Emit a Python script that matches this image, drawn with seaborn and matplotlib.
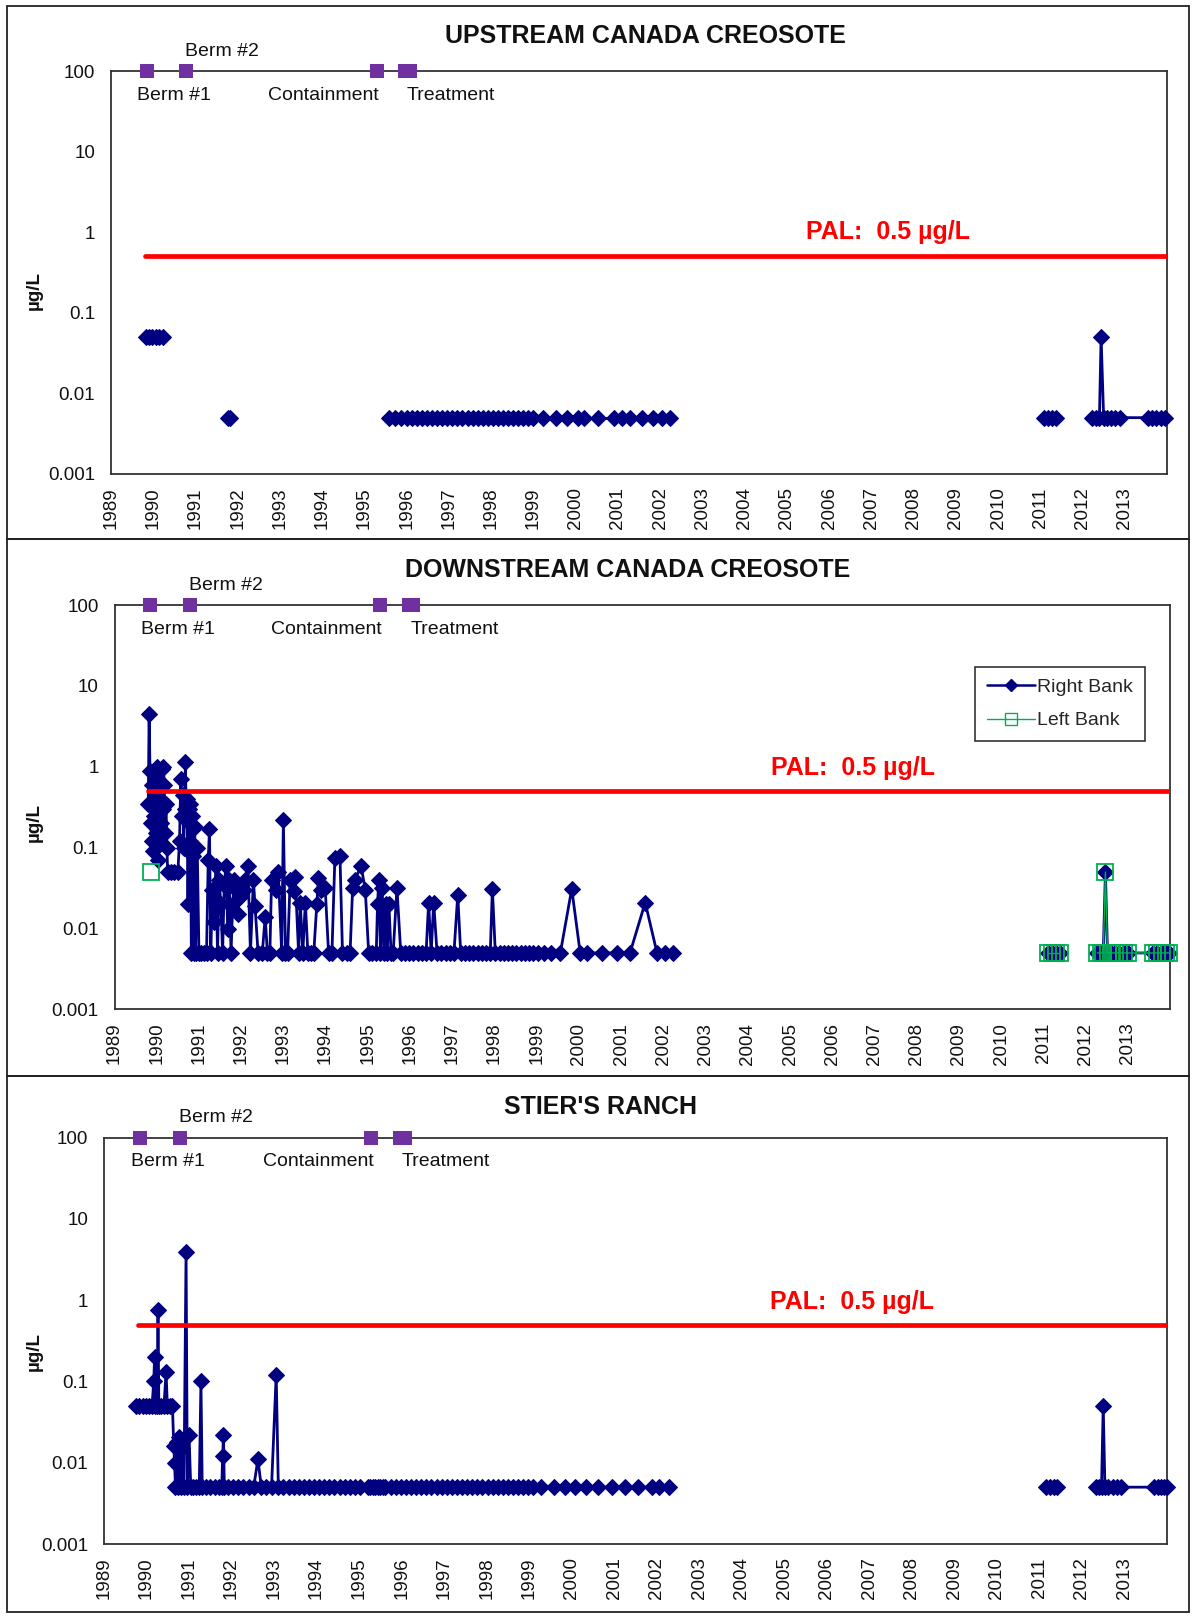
import numpy as np
import pandas as pd
import matplotlib
matplotlib.use("Agg")
import matplotlib.pyplot as plt
from matplotlib.lines import Line2D
from matplotlib.patches import Rectangle
from matplotlib.ticker import NullLocator
import seaborn as sns

nan = np.nan

# ---- data ----
year_labels = ["1989", "1990", "1991", "1992", "1993", "1994", "1995", "1996", "1997",
               "1998", "1999", "2000", "2001", "2002", "2003", "2004", "2005", "2006",
               "2007", "2008", "2009", "2010", "2011", "2012", "2013"]
ytick_values = [0.001, 0.01, 0.1, 1, 10, 100]
ytick_labels = ["0.001", "0.01", "0.1", "1", "10", "100"]

pal_level = 0.5
pal_start = 1989.8
pal_end = 2014.0

event_years = [1989.85, 1990.78, 1995.29, 1995.97, 1996.07]
event_level = [100, 100, 100, 100, 100]
event_labels = ["Berm #1", "Berm #2", "Containment", "Treatment"]
event_label_years = [1990.5, 1991.63, 1994.03, 1997.05]
event_label_above = [False, True, False, False]

up_year = [
    1989.82, 1989.90, 1989.98, 1990.06, 1990.14, 1990.22, nan, 1991.76, 1991.82, nan,
    1995.58, 1995.72, 1995.86, 1996.00, 1996.12, 1996.24, 1996.36, 1996.48, 1996.60, 1996.72,
    1996.84, 1996.96, 1997.08, 1997.20, 1997.32, 1997.44, 1997.56, 1997.68, 1997.80, 1997.92,
    1998.04, 1998.16, 1998.28, 1998.40, 1998.52, 1998.64, 1998.76, 1998.88, 1999.00, 1999.22,
    1999.54, 1999.80, 2000.05, 2000.20, 2000.54, 2000.90, 2001.10, 2001.29, 2001.56, 2001.83,
    2002.05, 2002.24, nan, 2011.08, 2011.18, 2011.28, 2011.38, nan, 2012.22, 2012.32,
    2012.40, 2012.44, 2012.50, 2012.58, 2012.68, 2012.78, 2012.88, 2013.55, 2013.65, 2013.75,
    2013.85, 2013.95,
]
up_value = [
    0.05, 0.05, 0.05, 0.05, 0.05, 0.05, nan, 0.005, 0.005, nan,
    0.005, 0.005, 0.005, 0.005, 0.005, 0.005, 0.005, 0.005, 0.005, 0.005,
    0.005, 0.005, 0.005, 0.005, 0.005, 0.005, 0.005, 0.005, 0.005, 0.005,
    0.005, 0.005, 0.005, 0.005, 0.005, 0.005, 0.005, 0.005, 0.005, 0.005,
    0.005, 0.005, 0.005, 0.005, 0.005, 0.005, 0.005, 0.005, 0.005, 0.005,
    0.005, 0.005, nan, 0.005, 0.005, 0.005, 0.005, nan, 0.005, 0.005,
    0.005, 0.05, 0.005, 0.005, 0.005, 0.005, 0.005, 0.005, 0.005, 0.005,
    0.005, 0.005,
]

dn_year = [
    1989.80, 1989.82, 1989.84, 1989.86, 1989.88, 1989.90, 1989.92, 1989.94, 1989.96, 1989.98,
    1990.00, 1990.02, 1990.04, 1990.06, 1990.08, 1990.10, 1990.12, 1990.14, 1990.16, 1990.18,
    1990.20, 1990.22, 1990.24, 1990.26, 1990.34, 1990.42, 1990.50, 1990.54, 1990.57, 1990.60,
    1990.62, 1990.64, 1990.66, 1990.68, 1990.70, 1990.72, 1990.74, 1990.76, 1990.78, 1990.80,
    1990.82, 1990.84, 1990.86, 1990.88, 1990.90, 1990.92, 1990.96, 1991.00, 1991.06, 1991.12,
    1991.18, 1991.22, 1991.25, 1991.28, 1991.32, 1991.36, 1991.40, 1991.44, 1991.48, 1991.52,
    1991.56, 1991.60, 1991.64, 1991.68, 1991.72, 1991.76, 1991.80, 1991.84, 1991.88, 1991.92,
    1991.96, 1992.00, 1992.06, 1992.10, 1992.16, 1992.22, 1992.29, 1992.33, 1992.40, 1992.50,
    1992.57, 1992.62, 1992.68, 1992.72, 1992.82, 1992.88, 1992.96, 1993.00, 1993.05, 1993.10,
    1993.16, 1993.24, 1993.28, 1993.36, 1993.40, 1993.46, 1993.52, 1993.58, 1993.66, 1993.72,
    1993.79, 1993.83, 1993.90, 1993.99, 1994.07, 1994.15, 1994.22, 1994.34, 1994.40, 1994.50,
    1994.58, 1994.64, 1994.70, 1994.84, 1994.94, 1995.02, 1995.10, 1995.20, 1995.23, 1995.26,
    1995.30, 1995.34, 1995.38, 1995.42, 1995.46, 1995.50, 1995.55, 1995.60, 1995.69, 1995.78,
    1995.88, 1995.98, 1996.08, 1996.18, 1996.28, 1996.38, 1996.44, 1996.50, 1996.56, 1996.64,
    1996.74, 1996.84, 1996.94, 1997.04, 1997.13, 1997.20, 1997.30, 1997.40, 1997.50, 1997.60,
    1997.70, 1997.80, 1997.90, 1997.95, 1998.02, 1998.12, 1998.22, 1998.32, 1998.42, 1998.52,
    1998.62, 1998.72, 1998.82, 1998.92, 1999.02, 1999.17, 1999.33, 1999.56, 1999.83, 2000.03,
    2000.19, 2000.54, 2000.90, 2001.21, 2001.57, 2001.85, 2002.05, 2002.24, nan, 2011.10,
    2011.20, 2011.30, 2011.40, nan, 2012.28, 2012.36, 2012.42, 2012.47, 2012.52, 2012.60,
    2012.70, 2012.80, 2012.90, 2013.00, 2013.60, 2013.70, 2013.80, 2013.90, 2013.98,
]
dn_right = [
    0.35, 4.5, 0.9, 0.2, 0.12, 0.6, 0.09, 0.25, 0.85, 0.15,
    1.0, 0.07, 0.4, 0.12, 0.65, 0.2, 0.95, 0.3, 1.0, 0.6,
    0.15, 0.35, 0.1, 0.05, 0.05, 0.05, 0.05, 0.12, 0.7, 0.25,
    0.45, 0.1, 0.3, 1.16, 0.22, 0.4, 0.02, 0.3, 0.12, 0.35,
    0.005, 0.25, 0.08, 0.005, 0.18, 0.005, 0.1, 0.005, 0.005, 0.005,
    0.005, 0.07, 0.17, 0.005, 0.03, 0.012, 0.06, 0.005, 0.04, 0.02,
    0.005, 0.035, 0.06, 0.01, 0.04, 0.005, 0.02, 0.04, 0.03, 0.015,
    0.03, 0.025, 0.03, 0.04, 0.06, 0.005, 0.04, 0.019, 0.005, 0.005,
    0.014, 0.005, 0.005, 0.04, 0.03, 0.05, 0.005, 0.22, 0.005, 0.005,
    0.04, 0.029, 0.043, 0.005, 0.021, 0.005, 0.021, 0.005, 0.005, 0.005,
    0.02, 0.042, 0.03, 0.032, 0.005, 0.005, 0.075, 0.08, 0.005, 0.005,
    0.005, 0.032, 0.04, 0.06, 0.03, 0.005, 0.005, 0.005, 0.02, 0.04,
    0.005, 0.032, 0.005, 0.02, 0.005, 0.02, 0.005, 0.005, 0.032, 0.005,
    0.005, 0.005, 0.005, 0.005, 0.005, 0.005, 0.021, 0.005, 0.021, 0.005,
    0.005, 0.005, 0.005, 0.005, 0.026, 0.005, 0.005, 0.005, 0.005, 0.005,
    0.005, 0.005, 0.005, 0.031, 0.005, 0.005, 0.005, 0.005, 0.005, 0.005,
    0.005, 0.005, 0.005, 0.005, 0.005, 0.005, 0.005, 0.005, 0.031, 0.005,
    0.005, 0.005, 0.005, 0.005, 0.021, 0.005, 0.005, 0.005, nan, 0.005,
    0.005, 0.005, 0.005, nan, 0.005, 0.005, 0.005, 0.05, 0.005, 0.005,
    0.005, 0.005, 0.005, 0.005, 0.005, 0.005, 0.005, 0.005, 0.005,
]
dn_left_year = [
    1989.86, nan, 2011.10, 2011.20, 2011.30, 2011.40, nan, 2012.28, 2012.36, 2012.42,
    2012.47, 2012.52, 2012.60, 2012.70, 2012.80, 2012.90, 2013.00, 2013.60, 2013.70, 2013.80,
    2013.90, 2013.98,
]
dn_left = [
    0.05, nan, 0.005, 0.005, 0.005, 0.005, nan, 0.005, 0.005, 0.005,
    0.05, 0.005, 0.005, 0.005, 0.005, 0.005, 0.005, 0.005, 0.005, 0.005,
    0.005, 0.005,
]

st_year = [
    1989.75, 1989.83, 1989.91, 1989.99, 1990.07, 1990.13, 1990.17, 1990.19, 1990.21, 1990.25,
    1990.27, 1990.29, 1990.35, 1990.41, 1990.46, 1990.49, 1990.55, 1990.61, 1990.64, 1990.66,
    1990.68, 1990.71, 1990.74, 1990.77, 1990.80, 1990.84, 1990.88, 1990.93, 1990.96, 1991.00,
    1991.04, 1991.10, 1991.17, 1991.24, 1991.28, 1991.31, 1991.40, 1991.50, 1991.60, 1991.70,
    1991.77, 1991.79, 1991.81, 1991.83, 1991.92, 1992.04, 1992.16, 1992.28, 1992.40, 1992.52,
    1992.62, 1992.70, 1992.82, 1992.94, 1993.05, 1993.10, 1993.22, 1993.34, 1993.46, 1993.58,
    1993.70, 1993.82, 1993.94, 1994.06, 1994.18, 1994.30, 1994.42, 1994.54, 1994.66, 1994.78,
    1994.90, 1995.02, 1995.20, 1995.26, 1995.32, 1995.38, 1995.44, 1995.50, 1995.56, 1995.62,
    1995.74, 1995.86, 1995.98, 1996.10, 1996.22, 1996.34, 1996.46, 1996.58, 1996.70, 1996.82,
    1996.94, 1997.06, 1997.18, 1997.30, 1997.42, 1997.54, 1997.66, 1997.78, 1997.90, 1998.02,
    1998.14, 1998.26, 1998.38, 1998.50, 1998.62, 1998.74, 1998.86, 1998.98, 1999.10, 1999.27,
    1999.58, 1999.85, 2000.07, 2000.34, 2000.61, 2000.95, 2001.26, 2001.57, 2001.89, 2002.06,
    2002.29, nan, 2011.15, 2011.25, 2011.35, 2011.42, nan, 2012.32, 2012.40, 2012.46,
    2012.50, 2012.54, 2012.62, 2012.72, 2012.82, 2012.92, 2013.70, 2013.78, 2013.86, 2013.94,
    2014.00,
]
st_value = [
    0.05, 0.05, 0.05, 0.05, 0.05, 0.05, 0.1, 0.2, 0.05, 0.05,
    0.75, 0.05, 0.05, 0.05, 0.13, 0.05, 0.05, 0.05, 0.016, 0.01,
    0.005, 0.018, 0.005, 0.021, 0.005, 0.015, 0.005, 3.9, 0.005, 0.022,
    0.005, 0.005, 0.005, 0.005, 0.1, 0.005, 0.005, 0.005, 0.005, 0.005,
    0.005, 0.012, 0.022, 0.005, 0.005, 0.005, 0.005, 0.005, 0.005, 0.005,
    0.011, 0.005, 0.005, 0.005, 0.12, 0.005, 0.005, 0.005, 0.005, 0.005,
    0.005, 0.005, 0.005, 0.005, 0.005, 0.005, 0.005, 0.005, 0.005, 0.005,
    0.005, 0.005, 0.005, 0.005, 0.005, 0.005, 0.005, 0.005, 0.005, 0.005,
    0.005, 0.005, 0.005, 0.005, 0.005, 0.005, 0.005, 0.005, 0.005, 0.005,
    0.005, 0.005, 0.005, 0.005, 0.005, 0.005, 0.005, 0.005, 0.005, 0.005,
    0.005, 0.005, 0.005, 0.005, 0.005, 0.005, 0.005, 0.005, 0.005, 0.005,
    0.005, 0.005, 0.005, 0.005, 0.005, 0.005, 0.005, 0.005, 0.005, 0.005,
    0.005, nan, 0.005, 0.005, 0.005, 0.005, nan, 0.005, 0.005, 0.005,
    0.05, 0.005, 0.005, 0.005, 0.005, 0.005, 0.005, 0.005, 0.005, 0.005,
    0.005,
]

# ---- layout (pixels of the 1193x1617 canvas) ----
W, H = 1193, 1617
NAVY = "#000080"
GREEN = "#00B050"
PURPLE = "#7030A0"
RED = "#FF0000"
SPINE = "#333333"

sns.set_style("white")
plt.rcParams["font.family"] = ["Liberation Sans", "DejaVu Sans"]


def segments(years, values):
    df = pd.DataFrame({"year": years, "value": values})
    df["segment"] = df["value"].isna().cumsum()
    return df.dropna()


def draw_series(ax, years, values, **kw):
    sns.lineplot(data=segments(years, values), x="year", y="value", units="segment",
                 estimator=None, legend=False, ax=ax, **kw)


def setup_panel(ax, pal_x, pal_y):
    ax.set_yscale("log")
    ax.set_xlim(1989, 2014)
    ax.set_ylim(0.001, 100)
    ax.set_xticks([int(y) for y in year_labels])
    ax.set_xticklabels(year_labels, rotation=90)
    ax.set_yticks(ytick_values)
    ax.set_yticklabels(ytick_labels)
    ax.yaxis.set_minor_locator(NullLocator())
    ax.tick_params(axis="both", direction="inout", length=11, width=1.2, color=SPINE,
                   labelcolor="#111111")
    ax.tick_params(axis="y", labelsize=13.5, pad=6)
    ax.tick_params(axis="x", labelsize=13.5, pad=4)
    for sp in ax.spines.values():
        sp.set_color(SPINE)
        sp.set_linewidth(1.3)

    # PAL line
    sns.lineplot(x=[pal_start, pal_end], y=[pal_level, pal_level], color=RED,
                 linewidth=3.4, ax=ax, zorder=4)
    ax.text(pal_x, pal_y, "PAL:  0.5 µg/L", color=RED, fontsize=18, fontweight="bold",
            ha="center", va="center")

    # remediation events on the top spine
    sns.scatterplot(x=event_years, y=event_level, marker="s", s=105, color=PURPLE,
                    linewidth=0, clip_on=False, zorder=6, ax=ax)
    for lab, yr, above in zip(event_labels, event_label_years, event_label_above):
        ax.annotate(lab, (yr, 100), xytext=(0, 20 if above else -24),
                    textcoords="offset pixels", ha="center", va="center",
                    fontsize=14, color="#111111", annotation_clip=False)
    ax.set_xlabel("")
    ax.set_ylabel("")


fig = plt.figure(figsize=(W / 100, H / 100), dpi=100)
fig.patch.set_facecolor("white")

panels = [
    # (axes left, top, right, bottom), title, title centre, ylabel centre y, PAL text pos
    ((111, 71, 1167, 474), "UPSTREAM CANADA CREOSOTE", (645, 36), 290, (2007.4, 1.0)),
    ((114.5, 605, 1170, 1009.5), "DOWNSTREAM CANADA CREOSOTE", (628, 570), 822, (2006.5, 0.97)),
    ((104, 1137.5, 1167, 1544), "STIER'S RANCH", (600, 1107), 1351, (2006.6, 0.96)),
]
boxes = [(7, 6, 1189, 539), (7, 539, 1189, 1076), (7, 1076, 1189, 1612)]

line_kw = dict(color=NAVY, linewidth=2.0, marker="D", markersize=8.5,
               markeredgecolor=NAVY, markerfacecolor=NAVY, clip_on=False, zorder=3)

axes = []
pal_pos = []
for (l, t, r, b), title, (tx, ty), ly, pal in panels:
    ax = fig.add_axes([l / W, 1 - b / H, (r - l) / W, (b - t) / H])
    axes.append(ax)
    pal_pos.append(pal)
    fig.text(tx / W, 1 - ty / H, title, fontsize=18, fontweight="bold",
             ha="center", va="center", color="#111111")
    fig.text(34 / W, 1 - ly / H, "µg/L", fontsize=13.5, fontweight="bold",
             rotation=90, ha="center", va="center", color="#111111")

draw_series(axes[0], up_year, up_value, **line_kw)
draw_series(axes[1], dn_year, dn_right, **line_kw)
draw_series(axes[1], dn_left_year, dn_left, color=GREEN, linewidth=1.0, marker="s",
            markersize=11, markerfacecolor="none", markeredgecolor=GREEN,
            markeredgewidth=1.3, clip_on=False, zorder=3.5)
draw_series(axes[2], st_year, st_value, **line_kw)

for ax, pal in zip(axes, pal_pos):
    setup_panel(ax, *pal)

handles = [
    Line2D([], [], color=NAVY, linewidth=1.8, marker="D", markersize=6),
    Line2D([], [], color=GREEN, linewidth=1.0, marker="s", markersize=8,
           markerfacecolor="none", markeredgecolor=GREEN),
]
leg = axes[1].legend(handles, ["Right Bank", "Left Bank"], loc="upper right",
                     bbox_to_anchor=(0.976, 0.847), frameon=True, fancybox=False,
                     edgecolor=SPINE, framealpha=1, fontsize=14, borderaxespad=0,
                     handlelength=2.5, handletextpad=0.1, labelspacing=0.8,
                     borderpad=0.6)
leg.get_frame().set_linewidth(1.2)

for l, t, r, b in boxes:
    fig.add_artist(Rectangle((l / W, 1 - b / H), (r - l) / W, (b - t) / H,
                             transform=fig.transFigure, fill=False,
                             edgecolor="#222222", linewidth=1.3))

fig.savefig("out.png", dpi=100, facecolor="white")
